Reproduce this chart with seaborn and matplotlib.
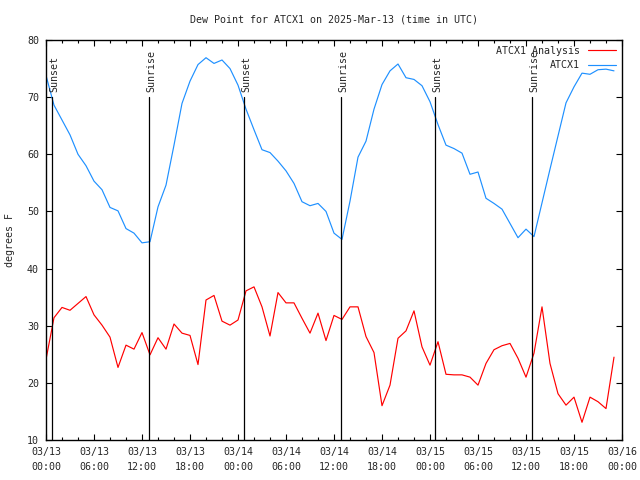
import pandas as pd
import numpy as np
import matplotlib
matplotlib.use("Agg")
import matplotlib.pyplot as plt
import matplotlib.dates as mdates
import seaborn as sns

# hourly observations, 2025-03-13 00:00 UTC onwards
times = pd.date_range("2025-03-13 00:00", periods=72, freq="h")

analysis = [24.1, 31.4, 33.2, 32.7, 33.9, 35.1, 31.9, 30.1, 28.0, 22.7,
            26.6, 25.9, 28.8, 24.9, 27.9, 25.9, 30.3, 28.7, 28.3, 23.2,
            34.5, 35.3, 30.8, 30.1, 31.0, 36.1, 36.8, 33.3, 28.2, 35.8,
            34.0, 34.0, 31.3, 28.7, 32.2, 27.4, 31.8, 31.1, 33.3, 33.3,
            28.1, 25.3, 16.0, 19.6, 27.8, 29.1, 32.6, 26.3, 23.1, 27.2,
            21.5, 21.4, 21.4, 21.0, 19.6, 23.4, 25.8, 26.5, 26.9, 24.3,
            21.0, 25.2, 33.3, 23.4, 18.1, 16.1, 17.5, 13.1, 17.5, 16.7,
            15.5, 24.5]

observed = [73.8, 68.6, 66.0, 63.4, 60.0, 58.0, 55.3, 53.8, 50.7, 50.1,
            47.0, 46.2, 44.5, 44.7, 50.8, 54.6, 61.6, 68.9, 72.8, 75.7,
            76.9, 75.9, 76.5, 75.0, 72.1, 67.9, 64.3, 60.8, 60.3, 58.8,
            57.1, 54.9, 51.7, 51.0, 51.4, 50.0, 46.2, 45.1, 51.8, 59.5,
            62.3, 67.9, 72.2, 74.6, 75.8, 73.4, 73.1, 72.0, 69.2, 65.2,
            61.6, 61.0, 60.2, 56.5, 56.9, 52.3, 51.4, 50.4, 47.9, 45.4,
            46.9, 45.6, 51.5, 57.4, 63.2, 69.0, 71.8, 74.2, 74.0, 74.8,
            74.9, 74.6]

sun_times = pd.to_datetime(["2025-03-13 00:47", "2025-03-13 12:55",
                            "2025-03-14 00:47", "2025-03-14 12:51",
                            "2025-03-15 00:41", "2025-03-15 12:47"])
sun_labels = ["Sunset", "Sunrise", "Sunset", "Sunrise", "Sunset", "Sunrise"]

df = pd.DataFrame({"time": times, "ATCX1 Analysis": analysis, "ATCX1": observed})

sns.set_style("ticks")
plt.rcParams["font.family"] = ["DejaVu Sans Mono"]
plt.rcParams["font.size"] = 7.2

fig = plt.figure(figsize=(6.4, 4.8), dpi=100)
ax = fig.add_axes([46 / 640, 40 / 480, 576 / 640, 400 / 480])

sns.lineplot(data=df, x="time", y="ATCX1 Analysis", color="#ff0000", lw=0.85,
             label="ATCX1 Analysis", ax=ax)
sns.lineplot(data=df, x="time", y="ATCX1", color="#1e90ff", lw=0.85,
             label="ATCX1", ax=ax)

# sunrise / sunset markers
for t, lab in zip(sun_times, sun_labels):
    ax.plot([t, t], [10, 70], color="black", lw=0.9)
    ax.annotate(lab, xy=(t, 70), xytext=(1.5, 3.5), textcoords="offset points",
                rotation=90, ha="center", va="bottom", fontsize=7.2)

ax.set_xlim(pd.Timestamp("2025-03-13 00:00"), pd.Timestamp("2025-03-16 00:00"))
ax.set_ylim(10, 80)
ax.set_yticks(np.arange(10, 81, 10))
ax.xaxis.set_major_locator(mdates.HourLocator(byhour=range(0, 24, 6)))
ax.xaxis.set_minor_locator(mdates.HourLocator(byhour=range(0, 24, 2)))
ax.xaxis.set_major_formatter(mdates.DateFormatter("%m/%d\n%H:%M"))
for lbl in ax.get_xticklabels():
    lbl.set_linespacing(1.6)

ax.tick_params(which="both", direction="in", top=True, right=True,
               color="black", width=0.8, labelsize=7.2)
ax.tick_params(which="major", length=4.5, pad=5)
ax.tick_params(which="minor", length=2.2)
for s in ax.spines.values():
    s.set_visible(True)
    s.set_color("black")
    s.set_linewidth(1.0)

ax.set_xlabel("")
ax.set_ylabel("degrees F", fontsize=7.2, labelpad=9)
fig.suptitle("Dew Point for ATCX1 on 2025-Mar-13 (time in UTC)",
             x=334 / 640, y=1 - 14 / 480, va="top", fontsize=7.2)

ax.legend(loc="upper right", frameon=False, markerfirst=False,
          handlelength=2.8, handletextpad=0.8, labelspacing=0.45,
          borderaxespad=0.2, fontsize=7.2)

fig.savefig("out.png", dpi=100)
